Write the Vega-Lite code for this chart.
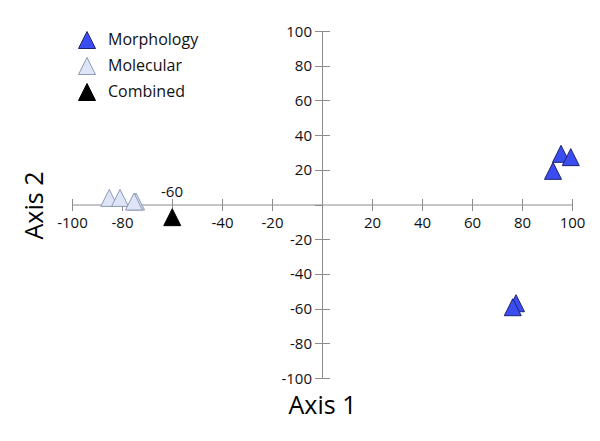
{
  "$schema": "https://vega.github.io/schema/vega-lite/v6.json",
  "width": 500,
  "height": 347,
  "autosize": {"type": "none"},
  "padding": {"left": 72, "top": 31, "right": 28, "bottom": 63},
  "background": "white",
  "config": {"view": {"stroke": null}, "font": "Open Sans", "axis": {"grid": false, "labelFont": "Open Sans", "titleFont": "Open Sans"}},
  "data": {"values": [
    {"group": "Morphology", "x": 95.6, "y": 29.2},
    {"group": "Morphology", "x": 99.5, "y": 27.3},
    {"group": "Morphology", "x": 92.4, "y": 19.4},
    {"group": "Morphology", "x": 77.6, "y": -56.9},
    {"group": "Morphology", "x": 76.3, "y": -59.2},
    {"group": "Molecular", "x": -85.1, "y": 3.8},
    {"group": "Molecular", "x": -80.8, "y": 3.8},
    {"group": "Molecular", "x": -74.4, "y": 1.7},
    {"group": "Molecular", "x": -75.2, "y": 1.7},
    {"group": "Combined", "x": -59.9, "y": -7.3}
  ]},
  "layer": [
    {
      "mark": {"type": "point", "shape": "M0,-1L-1,1L1,1Z", "size": 289, "filled": true, "opacity": 1, "strokeWidth": 1},
      "encoding": {
        "x": {"field": "x", "type": "quantitative", "scale": {"domain": [-100, 100], "nice": false, "zero": false},
          "axis": {"orient": "bottom", "offset": -173.5, "title": "Axis 1", "titleFontSize": 25, "titleFontWeight": "normal", "titleColor": "#000", "titleBaseline": "alphabetic", "titleY": 209,
            "domainColor": "#8c8c8c", "domainWidth": 1, "tickColor": "#8c8c8c", "tickSize": 6, "tickWidth": 1,
            "values": [-100, -80, -60, -40, -20, 0, 20, 40, 60, 80, 100],
            "labelExpr": "datum.value == 0 || datum.value == -60 ? '' : '' + datum.value",
            "labelFontSize": 15, "labelColor": "#111", "labelPadding": 5, "labelFlush": false, "labelOverlap": false}},
        "y": {"field": "y", "type": "quantitative", "scale": {"domain": [-100, 100], "nice": false, "zero": false},
          "axis": {"orient": "left", "offset": -250, "title": "Axis 2", "titleFontSize": 25, "titleFontWeight": "normal", "titleColor": "#000", "titleBaseline": "alphabetic", "titleX": -280, "titleY": 174, "titleAngle": -90,
            "domainColor": "#8c8c8c", "domainWidth": 1, "tickColor": "#8c8c8c", "tickSize": 7.5, "tickWidth": 1,
            "values": [-100, -80, -60, -40, -20, 0, 20, 40, 60, 80, 100],
            "labelExpr": "datum.value == 0 ? '' : '' + datum.value",
            "labelFontSize": 15, "labelColor": "#111", "labelPadding": 3, "labelFlush": false, "labelOverlap": false}},
        "fill": {"field": "group", "type": "nominal",
          "scale": {"domain": ["Morphology", "Molecular", "Combined"], "range": ["#3b4cf0", "#dde5f6", "#000000"]},
          "legend": {"title": null, "orient": "none", "legendX": 6, "legendY": 0, "symbolType": "M0,-1L-1,1L1,1Z", "symbolSize": 289, "symbolStrokeWidth": 1, "labelFontSize": 16, "labelFont": "Open Sans", "labelColor": "#111", "labelOffset": 12, "rowPadding": 4, "padding": 0}},
        "stroke": {"field": "group", "type": "nominal",
          "scale": {"domain": ["Morphology", "Molecular", "Combined"], "range": ["#1d2470", "#8c9ab5", "#000000"]},
          "legend": {"title": null, "orient": "none", "legendX": 6, "legendY": 0, "symbolType": "M0,-1L-1,1L1,1Z", "symbolSize": 289, "symbolStrokeWidth": 1, "labelFontSize": 16, "labelFont": "Open Sans", "labelColor": "#111", "labelOffset": 12, "rowPadding": 4, "padding": 0}}
      }
    },
    {
      "mark": {"type": "point", "opacity": 0},
      "encoding": {
        "x": {"field": "x", "type": "quantitative", "scale": {"domain": [-100, 100], "nice": false, "zero": false},
          "axis": {"orient": "bottom", "offset": -173.5, "title": null, "domain": false, "labels": false, "tickColor": "#8c8c8c", "tickSize": -6, "tickWidth": 1,
            "values": [-100, -80, -60, -40, -20, 20, 40, 60, 80, 100]}},
        "y": {"field": "y", "type": "quantitative", "scale": {"domain": [-100, 100], "nice": false, "zero": false},
          "axis": {"orient": "left", "offset": -250, "title": null, "domain": false, "labels": false, "tickColor": "#8c8c8c", "tickSize": -7.5, "tickWidth": 1,
            "values": [-100, -80, -60, -40, -20, 20, 40, 60, 80, 100]}}
      }
    },
    {
      "data": {"values": [{"label": "-60", "x": -60, "y": 0}]},
      "mark": {"type": "text", "dy": -8, "baseline": "alphabetic", "align": "center", "fontSize": 15, "font": "Open Sans", "color": "#111"},
      "encoding": {
        "x": {"field": "x", "type": "quantitative", "scale": {"domain": [-100, 100], "nice": false, "zero": false}, "axis": null},
        "y": {"field": "y", "type": "quantitative", "scale": {"domain": [-100, 100], "nice": false, "zero": false}, "axis": null},
        "text": {"field": "label", "type": "nominal"}
      }
    }
  ],
  "resolve": {"axis": {"x": "independent", "y": "independent"}}
}
